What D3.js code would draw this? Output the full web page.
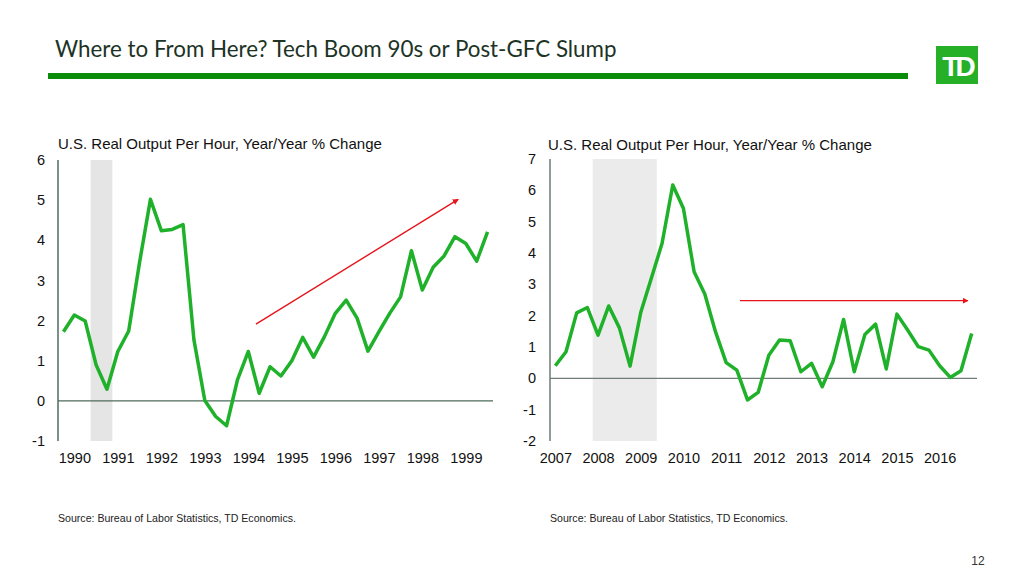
<!DOCTYPE html>
<html>
<head>
<meta charset="utf-8">
<script src="https://cdn.jsdelivr.net/npm/d3@7"></script>
<style>
  html, body { margin: 0; padding: 0; background: #fff; }
  svg { display: block; }
</style>
</head>
<body>
<svg id="chart" width="1024" height="576"></svg>
<script>
// ---------------- DATA ----------------
const slideTitle = "Where to From Here? Tech Boom 90s or Post-GFC Slump";
const panelTitle = "U.S. Real Output Per Hour, Year/Year % Change";
const sourceText = "Source: Bureau of Labor Statistics, TD Economics.";
const pageNumber = "12";

// Left panel: quarterly, 1990Q1 - 1999Q4
const leftYears = ["1990","1991","1992","1993","1994","1995","1996","1997","1998","1999"];
const leftValues = [
  1.72, 2.14, 1.99, 0.90,
  0.29, 1.23, 1.74, 3.45,
  5.02, 4.24, 4.27, 4.39,
  1.52, 0.01, -0.39, -0.62,
  0.52, 1.23, 0.19, 0.85,
  0.62, 1.00, 1.58, 1.09,
  1.60, 2.18, 2.51, 2.06,
  1.24, 1.72, 2.18, 2.59,
  3.74, 2.76, 3.33, 3.61,
  4.09, 3.92, 3.48, 4.21
];
const leftYTicks = [-1, 0, 1, 2, 3, 4, 5, 6];
const leftRecession = [3, 5];            // quarter boundaries
const leftArrow = [[18.2, 1.91], [36.8, 5.02]]; // [quarter, value]

// Right panel: quarterly, 2007Q1 - 2016Q4
const rightYears = ["2007","2008","2009","2010","2011","2012","2013","2014","2015","2016"];
const rightValues = [
  0.40, 0.85, 2.09, 2.26,
  1.38, 2.31, 1.61, 0.39,
  2.10, 3.20, 4.31, 6.17,
  5.42, 3.40, 2.69, 1.49,
  0.50, 0.26, -0.69, -0.45,
  0.74, 1.22, 1.20, 0.21,
  0.48, -0.27, 0.53, 1.88,
  0.21, 1.40, 1.73, 0.30,
  2.05, 1.54, 1.01, 0.90,
  0.40, 0.03, 0.24, 1.43
];
const rightYTicks = [-2, -1, 0, 1, 2, 3, 4, 5, 6, 7];
const rightRecession = [4, 10];
const rightArrow = [[17.8, 2.48], [39.15, 2.48]];

// ---------------- DRAW ----------------
const svg = d3.select("#chart");
const defs = svg.append("defs");
defs.append("marker")
  .attr("id", "arrowhead")
  .attr("viewBox", "0 0 10 10")
  .attr("refX", 9).attr("refY", 5)
  .attr("markerWidth", 6).attr("markerHeight", 6)
  .attr("markerUnits", "userSpaceOnUse")
  .attr("orient", "auto")
  .append("path").attr("d", "M0,0 L10,5 L0,10 Z").attr("fill", "#e8141c");

// Slide header
const title = svg.append("text")
  .attr("x", 55).attr("y", 57)
  .attr("font-family", "Lato, 'Open Sans', sans-serif")
  .attr("font-size", 23)
  .attr("fill", "#1c3326")
  .text(slideTitle);
const tw = title.node().getComputedTextLength();
title.attr("font-size", 23 * 562 / tw);

svg.append("rect").attr("x", 48).attr("y", 73).attr("width", 860).attr("height", 6).attr("fill", "#0b8d0b");

// TD logo
svg.append("rect").attr("x", 936).attr("y", 46).attr("width", 42).attr("height", 38).attr("fill", "#26b027");
svg.append("text").attr("x", 957).attr("y", 76)
  .attr("text-anchor", "middle")
  .attr("font-family", "'Liberation Sans', Arial, sans-serif")
  .attr("font-weight", "bold")
  .attr("font-size", 28)
  .attr("letter-spacing", -4)
  .attr("fill", "#fff")
  .text("TD");

function drawPanel(cfg) {
  const g = svg.append("g");
  const x = d3.scaleLinear().domain([0, cfg.values.length]).range([cfg.x0, cfg.x1]);
  const y = d3.scaleLinear().domain(cfg.yDomain).range([441, cfg.yTop]);

  // recession shading
  g.append("rect")
    .attr("x", x(cfg.recession[0]))
    .attr("y", y(cfg.yDomain[1]))
    .attr("width", x(cfg.recession[1]) - x(cfg.recession[0]))
    .attr("height", y(cfg.yDomain[0]) - y(cfg.yDomain[1]))
    .attr("fill", cfg.shade);

  // y axis line
  g.append("line")
    .attr("x1", cfg.x0).attr("x2", cfg.x0)
    .attr("y1", y(cfg.yDomain[1])).attr("y2", y(cfg.yDomain[0]))
    .attr("stroke", cfg.axisColor).attr("stroke-width", 1.5);
  // zero line
  g.append("line")
    .attr("x1", cfg.x0).attr("x2", cfg.x1)
    .attr("y1", y(0)).attr("y2", y(0))
    .attr("stroke", cfg.axisColor).attr("stroke-width", 1.2);

  // y tick labels
  const yAxis = d3.axisLeft(y).tickValues(cfg.yTicks).tickSize(0).tickPadding(cfg.yPad).tickFormat(d => String(d));
  const ya = g.append("g").attr("transform", `translate(${cfg.x0},0)`).call(yAxis);
  ya.select(".domain").remove();
  ya.selectAll("text")
    .attr("font-family", "'Liberation Sans', Arial, sans-serif")
    .attr("font-size", 14.5).attr("fill", "#111");

  // x labels (one per year)
  const xAxis = d3.axisBottom(x)
    .tickValues(cfg.years.map((d, i) => i * 4 + cfg.labelOffset))
    .tickSize(0).tickPadding(0)
    .tickFormat((d, i) => cfg.years[i]);
  const xa = g.append("g").attr("transform", "translate(0,453)").call(xAxis);
  xa.select(".domain").remove();
  xa.selectAll("text")
    .attr("font-family", "'Liberation Sans', Arial, sans-serif")
    .attr("font-size", 14.5).attr("fill", "#111");

  // data line
  const line = d3.line().x((d, i) => x(i + 0.5)).y(d => y(d));
  g.append("path").datum(cfg.values)
    .attr("d", line)
    .attr("fill", "none")
    .attr("stroke", "#1fb12a")
    .attr("stroke-width", 3.5)
    .attr("stroke-linejoin", "round");

  // red arrow
  g.append("line")
    .attr("x1", x(cfg.arrow[0][0])).attr("y1", y(cfg.arrow[0][1]))
    .attr("x2", x(cfg.arrow[1][0])).attr("y2", y(cfg.arrow[1][1]))
    .attr("stroke", "#e8141c").attr("stroke-width", 1.4)
    .attr("marker-end", "url(#arrowhead)");

  // panel title
  g.append("text")
    .attr("x", cfg.titleX).attr("y", cfg.titleY)
    .attr("font-family", "'Liberation Sans', Arial, sans-serif")
    .attr("font-size", 15).attr("fill", "#111")
    .text(panelTitle);

  // source
  const src = g.append("text")
    .attr("x", cfg.x0).attr("y", 522)
    .attr("font-family", "'Liberation Sans Narrow', 'Arial Narrow', 'Liberation Sans', sans-serif")
    .attr("font-size", 10.5).attr("fill", "#222")
    .text(sourceText);
  src.attr("textLength", 238).attr("lengthAdjust", "spacingAndGlyphs");
}

drawPanel({
  values: leftValues, years: leftYears, yTicks: leftYTicks, yDomain: [-1, 6], yTop: 160,
  x0: 58, x1: 493, recession: leftRecession, arrow: leftArrow, labelOffset: 1.5,
  shade: "#e5e5e5", axisColor: "#4f6b5d", yPad: 13, titleX: 58, titleY: 149
});
drawPanel({
  values: rightValues, years: rightYears, yTicks: rightYTicks, yDomain: [-2, 7], yTop: 159,
  x0: 550, x1: 977, recession: rightRecession, arrow: rightArrow, labelOffset: 0.5,
  shade: "#ebebeb", axisColor: "#6f7d76", yPad: 14, titleX: 548, titleY: 150
});

// page number
svg.append("text").attr("x", 978).attr("y", 565)
  .attr("text-anchor", "middle")
  .attr("font-family", "'Liberation Sans', Arial, sans-serif")
  .attr("font-size", 12).attr("fill", "#333")
  .text(pageNumber);
</script>
</body>
</html>
